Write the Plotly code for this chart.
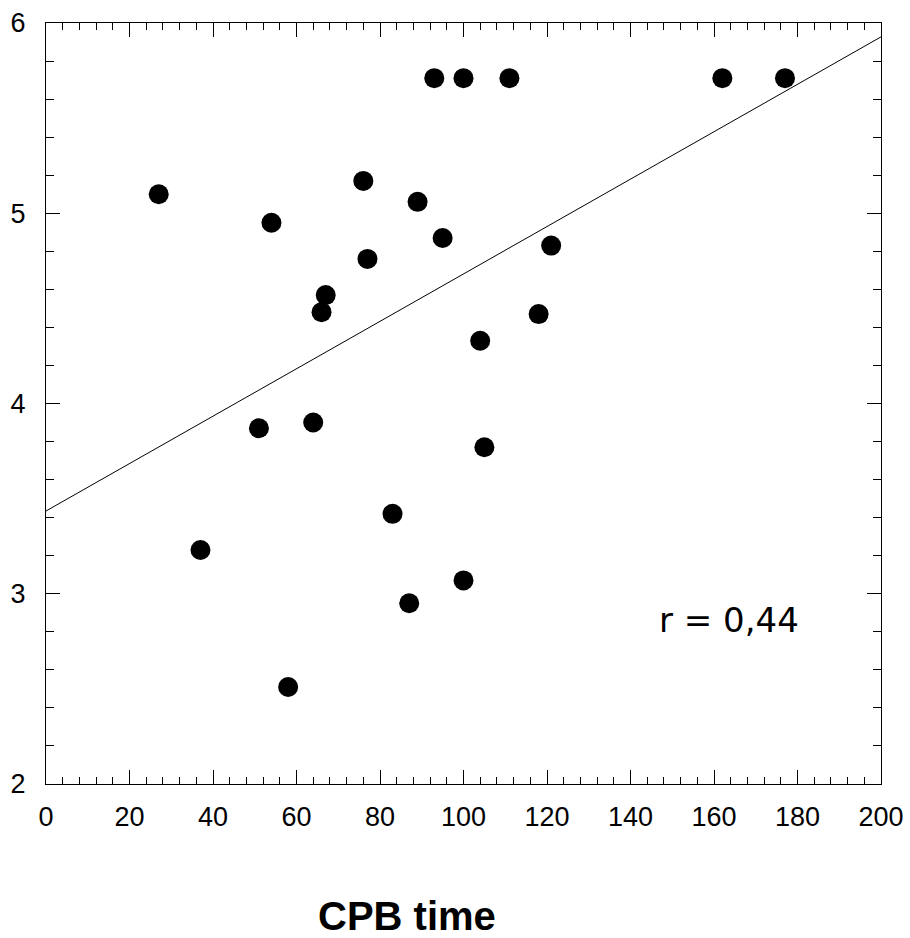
import plotly.graph_objects as go

# Data
cpb_time = [27, 37, 51, 54, 58, 64, 66, 67, 76, 77, 83, 87, 89, 93, 95, 100, 100, 104, 105, 111, 118, 121, 162, 177]
values = [5.10, 3.23, 3.87, 4.95, 2.51, 3.90, 4.48, 4.57, 5.17, 4.76, 3.42, 2.95, 5.06, 5.71, 4.87, 5.71, 3.07, 4.33, 3.77, 5.71, 4.47, 4.83, 5.71, 5.71]

fit_intercept = 3.435
fit_slope = 0.01246
fit_x = [0, 200]
fit_y = [fit_intercept + fit_slope * v for v in fit_x]

x_ticks = [0, 20, 40, 60, 80, 100, 120, 140, 160, 180, 200]
y_ticks = [2, 3, 4, 5, 6]

fig = go.Figure()
fig.add_trace(go.Scatter(x=fit_x, y=fit_y, mode="lines",
                         line=dict(color="black", width=1), hoverinfo="skip"))
fig.add_trace(go.Scatter(x=cpb_time, y=values, mode="markers",
                         marker=dict(color="black", size=20, line=dict(width=0))))

axis_common = dict(showgrid=False, zeroline=False, showline=True, linecolor="black",
                   linewidth=1, mirror="allticks", ticks="inside", tickcolor="black",
                   tickwidth=1, automargin=False,
                   tickfont=dict(family="Liberation Sans, Arial", size=27, color="black"))

fig.update_xaxes(range=[0, 200], tickvals=x_ticks, ticklen=14,
                 minor=dict(dtick=4, ticks="inside", ticklen=7, tickcolor="black", tickwidth=1),
                 ticklabelstandoff=9, **axis_common)
fig.update_yaxes(range=[2, 6], tickvals=y_ticks, ticklen=14,
                 minor=dict(dtick=0.2, ticks="inside", ticklen=8, tickcolor="black", tickwidth=1),
                 ticklabelstandoff=14, **axis_common)

plot_w = 910 - 46 - 29
plot_h = 938 - 23 - 154

fig.add_annotation(text="r = 0,44", x=163.5, y=2.86, xref="x", yref="y",
                   showarrow=False, xanchor="center", yanchor="middle",
                   font=dict(family="DejaVu Sans", size=34, color="black"))
fig.add_annotation(text="<b>CPB time</b>", x=(407 - 46) / plot_w, y=(784 - 916) / plot_h,
                   xref="paper", yref="paper",
                   showarrow=False, xanchor="center", yanchor="middle",
                   font=dict(family="Liberation Sans, Arial", size=40, color="black"))

fig.update_layout(width=910, height=938, showlegend=False,
                  margin=dict(l=46, r=29, t=23, b=154, autoexpand=False),
                  plot_bgcolor="white", paper_bgcolor="white")

fig.write_html("out.html")
